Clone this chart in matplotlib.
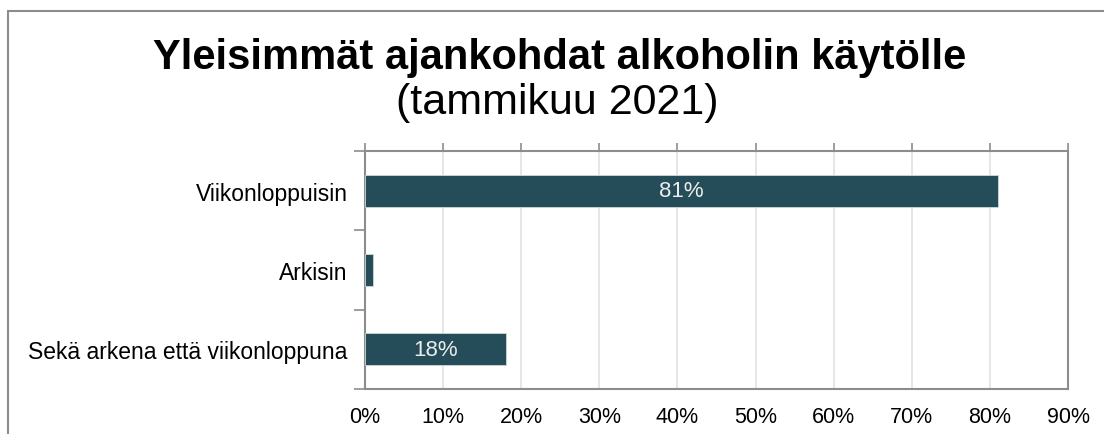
import matplotlib as mpl
mpl.use('Agg')
import matplotlib.pyplot as plt
from matplotlib.patches import Rectangle

categories = ['Viikonloppuisin', 'Arkisin', 'Sekä arkena että viikonloppuna']
values = [81, 1, 18]
shown = ['81%', '', '18%']
xticks = [0, 10, 20, 30, 40, 50, 60, 70, 80, 90]

plt.rcParams['font.family'] = ['Liberation Sans', 'DejaVu Sans']

fig = plt.figure(figsize=(11.04, 4.35), dpi=100)
ax = fig.add_axes([365/1104, 1 - 390/435, 703/1104, 238/435])

# outer frame, cropped on the right and bottom like the original
fig.patches.append(Rectangle((8/1104, -0.1), 1.2, 1 - 12/435 + 0.1, transform=fig.transFigure,
                             fill=False, edgecolor='#8c8c8c', linewidth=1.5))

ypos = list(range(len(categories)))[::-1]
bars = ax.barh(ypos, values, height=0.4, color='#244c59', edgecolor='#d0d8da', linewidth=0.6, zorder=3)
for b, t in zip(bars, shown):
    if t:
        ax.text(b.get_width() / 2, b.get_y() + b.get_height() / 2, t, ha='center', va='center',
                color='#ececec', fontsize=16, zorder=4)

ax.set_xlim(0, 90)
ax.set_ylim(-0.5, 2.5)
ax.set_xticks(xticks)
ax.set_xticklabels([f'{v}%' for v in xticks], fontsize=15.5)
ax.tick_params(axis='x', top=True, bottom=False, labeltop=False, labelbottom=True,
               direction='out', length=6, color='#8c8c8c', width=1.2, pad=6)
ax.set_yticks(ypos)
ax.set_yticklabels(categories, fontsize=16.5)
ax.set_yticks([-0.5, 0.5, 1.5, 2.5], minor=True)
ax.tick_params(axis='y', which='major', length=0, pad=12.5)
ax.tick_params(axis='y', which='minor', length=8, color='#8c8c8c', width=1.2, direction='out')
ax.grid(axis='x', color='#e2e2e2', linewidth=1.2, zorder=0)
ax.set_axisbelow(True)
for s in ax.spines.values():
    s.set_color('#8c8c8c')
    s.set_linewidth(1.5)

fig.text(0.507, 0.866, 'Yleisimmät ajankohdat alkoholin käytölle', ha='center', va='center',
         fontsize=30, fontweight='bold')
fig.text(0.505, 0.763, '(tammikuu 2021)', ha='center', va='center', fontsize=31)

fig.savefig('out.png', dpi=100)
